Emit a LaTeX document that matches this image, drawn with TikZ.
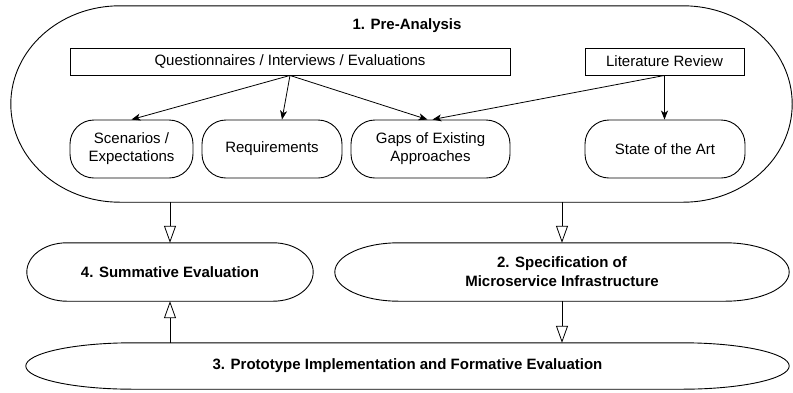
\documentclass[tikz,border=0pt]{standalone}
\usepackage{fontspec}
\setmainfont{Liberation Sans}
\usetikzlibrary{arrows.meta,calc}
\newcommand\termoutline[2]{%
  \draw[outline] let \p1=(#1.north west), \p2=(#1.south east) in
    (\x1+#2pt,\y1) -- (\x2-#2pt,\y1)
    arc[start angle=90,end angle=-90,x radius=#2pt,y radius={(\y1-\y2)/2}]
    -- (\x1+#2pt,\y2)
    arc[start angle=270,end angle=90,x radius=#2pt,y radius={(\y1-\y2)/2}]
    -- cycle;}
\tikzset{
  outline/.style={draw=black, line width=0.9pt},
  txt/.style={font=\fontsize{15}{18}\selectfont, align=center, inner sep=0pt},
  btxt/.style={font=\fontsize{15}{19}\selectfont\bfseries, align=center, inner sep=0pt},
  sqbox/.style={txt, draw, line width=0.9pt, minimum height=27pt},
  rbox/.style={txt, draw, line width=0.9pt, rounded corners=24pt, minimum height=58pt},
  term/.style={btxt, minimum width=#1},
  flow/.style={-{Stealth[length=9pt,width=7pt,inset=2.5pt]}, line width=0.8pt},
  hollow/.style={-{Triangle[open,length=17pt,width=12pt]}, line width=0.8pt}
}
\begin{document}
\begin{tikzpicture}[x=1pt,y=-1pt]
\useasboundingbox (0,0) rectangle (793,392);
% container and phase shapes
\node[term=781pt, minimum height=196pt] (pre) at (401.5,104) {};
\node[term=286pt, minimum height=58pt] (sum) at (170,272) {4. Summative Evaluation};
\node[term=454pt, minimum height=58pt] (spec) at (562,272) {2. Specification of\\Microservice Infrastructure};
\node[term=763pt, minimum height=46pt] (proto) at (407.5,366) {3. Prototype Implementation and Formative Evaluation};
\termoutline{pre}{109}
\termoutline{sum}{40}
\termoutline{spec}{64}
\termoutline{proto}{107}
\node[btxt] (title) at (407,26) {1. Pre-Analysis};
% inner boxes
\node[sqbox, minimum width=440pt] (q) at (290,61.5) {Questionnaires / Interviews / Evaluations};
\node[sqbox, minimum width=159pt] (lit) at (664.5,61.5) {Literature Review};
\node[rbox, minimum width=123pt] (scen) at (131.5,149) {Scenarios /\\Expectations};
\node[rbox, minimum width=140pt] (req) at (272,149) {Requirements};
\node[rbox, minimum width=159pt] (gaps) at (430.5,149) {Gaps of Existing\\Approaches};
\node[rbox, minimum width=160pt] (sota) at (665,149) {State of the Art};
% connectors
\draw[flow] (q.south) -- (scen.north);
\draw[flow] (q.south) -- ([xshift=10pt]req.north);
\draw[flow] (q.south) -- ([xshift=-3pt]gaps.north);
\draw[flow] (lit.south) -- ([xshift=2pt]gaps.north);
\draw[flow] (lit.south) -- (lit.south |- sota.north);
\draw[hollow] (pre.south -| sum.north) -- (sum.north);
\draw[hollow] (pre.south -| spec.north) -- (spec.north);
\draw[hollow] (spec.south) -- (proto.north -| spec.south);
\draw[hollow] (proto.north -| sum.south) -- (sum.south);
\end{tikzpicture}
\end{document}
